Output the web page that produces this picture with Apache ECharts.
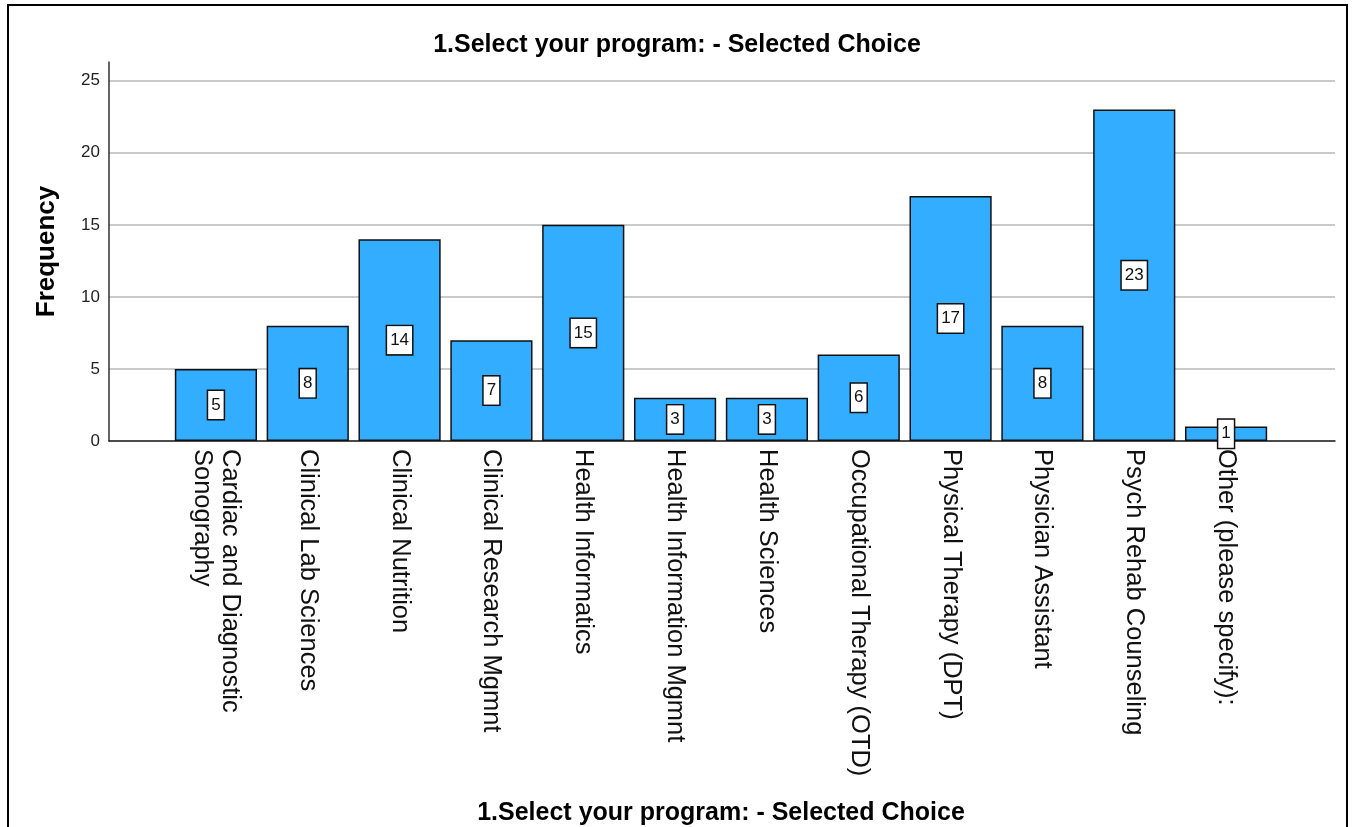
<!DOCTYPE html>
<html>
<head>
<meta charset="utf-8">
<script src="https://cdn.jsdelivr.net/npm/echarts@6/dist/echarts.min.js"></script>
<style>
html,body{margin:0;padding:0;background:#fff;}
#c{width:1354px;height:827px;}
#frame{position:absolute;left:7px;top:4px;width:1341px;height:900px;border:2px solid #000;pointer-events:none;box-sizing:border-box;}
</style>
</head>
<body>
<div id="c"></div>
<div id="frame"></div>
<script>
const categories = [
  "Cardiac and Diagnostic\nSonography",
  "Clinical Lab Sciences",
  "Clinical Nutrition",
  "Clinical Research Mgmnt",
  "Health Informatics",
  "Health Information Mgmnt",
  "Health Sciences",
  "Occupational Therapy (OTD)",
  "Physical Therapy (DPT)",
  "Physician Assistant",
  "Psych Rehab Counseling",
  "Other (please specify):"
];
const frequency = [5, 8, 14, 7, 15, 3, 3, 6, 17, 8, 23, 1];
const yTicks = [0, 5, 10, 15, 20, 25];
const titleText = "1.Select your program: - Selected Choice";
const yName = "Frequency";

const font = "'Liberation Sans', Arial, sans-serif";
const yMax = 26.3;

const chart = echarts.init(document.getElementById('c'));
chart.setOption({
  animation: false,
  title: {
    text: titleText,
    left: 'center',
    top: 28,
    textStyle: {fontFamily: font, fontSize: 25, fontWeight: 'bold', color: '#000'}
  },
  grid: [
    {left: 170, right: 82, top: 62, bottom: 386},
    {left: 109, right: 19, top: 62, bottom: 386}
  ],
  xAxis: [
    {
      type: 'category', gridIndex: 0, data: categories,
      axisLine: {show: false}, axisTick: {show: false},
      axisLabel: {rotate: -90, margin: 8, fontFamily: font, fontSize: 25.5, color: '#111', lineHeight: 28, interval: 0},
      name: titleText, nameLocation: 'middle', nameGap: 360,
      nameTextStyle: {fontFamily: font, fontSize: 25, fontWeight: 'bold', color: '#000'}
    },
    {
      type: 'value', gridIndex: 1, min: 0, max: 1,
      axisLine: {show: true, lineStyle: {color: '#222', width: 1.5}},
      axisTick: {show: false}, axisLabel: {show: false}, splitLine: {show: false}
    }
  ],
  yAxis: [
    {
      type: 'value', gridIndex: 0, min: 0, max: yMax,
      axisLine: {show: false}, axisTick: {show: false}, axisLabel: {show: false}, splitLine: {show: false}
    },
    {
      type: 'value', gridIndex: 1, min: 0, max: yMax, interval: 5,
      axisLine: {show: true, lineStyle: {color: '#333', width: 1.5}},
      axisTick: {show: false},
      axisLabel: {
        fontFamily: font, fontSize: 17, color: '#222', margin: 9,
        showMaxLabel: false,
        formatter: v => yTicks.includes(v) ? String(v) : ''
      },
      splitLine: {show: true, showMaxLine: false, lineStyle: {color: '#b8b8b8', width: 1.5}},
      name: yName, nameLocation: 'middle', nameGap: 49,
      nameTextStyle: {fontFamily: font, fontSize: 26, fontWeight: 'bold', color: '#000'}
    }
  ],
  series: [{
    type: 'bar', xAxisIndex: 0, yAxisIndex: 0,
    data: frequency,
    barWidth: '89.5%',
    itemStyle: {color: '#33adff', borderColor: '#111', borderWidth: 1.5},
    label: {
      show: true, position: 'inside',
      fontFamily: font, fontSize: 17, color: '#111',
      backgroundColor: '#fff', borderColor: '#111', borderWidth: 1.5,
      padding: [6, 3, 5, 3]
    }
  }]
});
</script>
</body>
</html>
